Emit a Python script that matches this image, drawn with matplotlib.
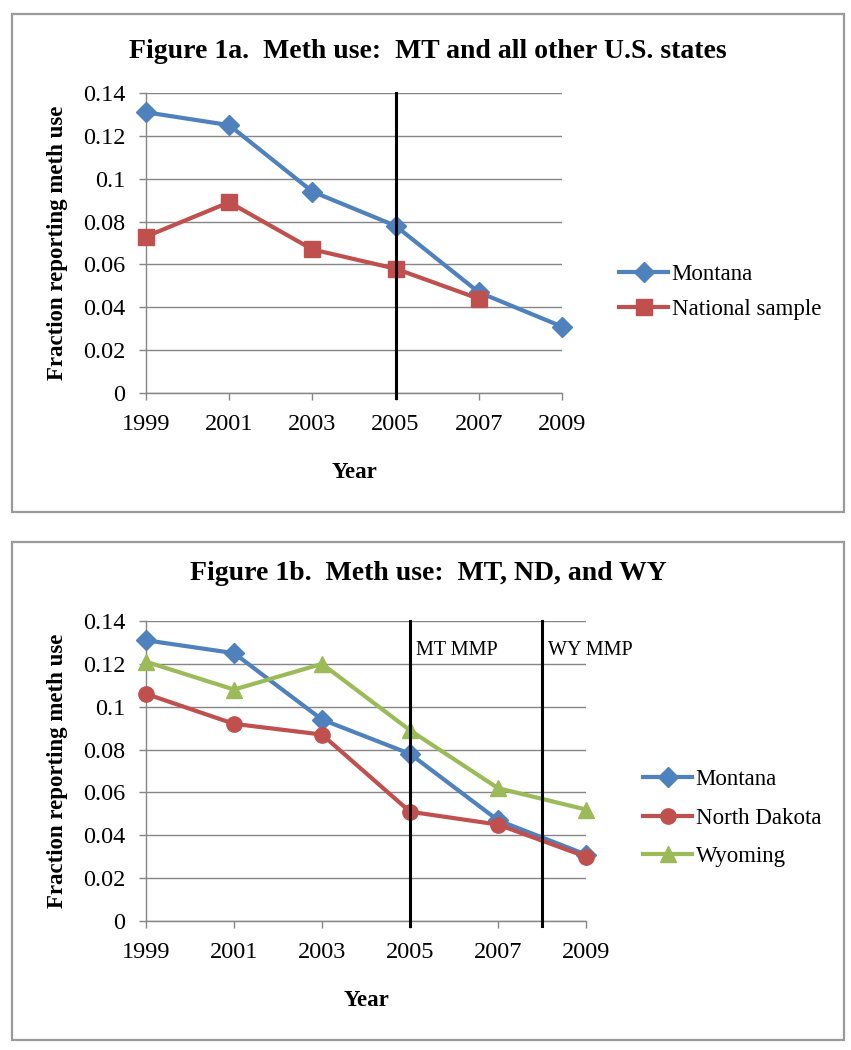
#!/usr/bin/env python3

import matplotlib
matplotlib.use("Agg")
import matplotlib.pyplot as plt
from matplotlib.patches import Rectangle


YEARS = [1999, 2001, 2003, 2005, 2007, 2009]
MONTANA = [0.131, 0.125, 0.094, 0.078, 0.047, 0.031]
NATIONAL = [0.073, 0.089, 0.067, 0.058, 0.044, None]
NORTH_DAKOTA = [0.106, 0.092, 0.087, 0.051, 0.045, 0.030]
WYOMING = [0.121, 0.108, 0.120, 0.089, 0.062, 0.052]
Y_TICKS = [0, 0.02, 0.04, 0.06, 0.08, 0.1, 0.12, 0.14]
Y_TICK_LABELS = ["0", "0.02", "0.04", "0.06", "0.08", "0.1", "0.12", "0.14"]
MMP_LINES_1A = [2005]
MMP_LINES_1B = [2005, 2008]
MMP_LABELS_1B = ["MT MMP", "WY MMP"]

BLUE = "#4F81BD"
RED = "#C0504D"
GREEN = "#9BBB59"
GRID = "#868686"

W, H = 851, 1050
plt.rcParams["font.family"] = ["Liberation Serif", "DejaVu Serif"]


def fx(px):
    return px / W


def fy(py):
    return 1 - py / H


def panel(fig, top, bottom):
    fig.patches.append(Rectangle((fx(12), fy(bottom)), fx(844) - fx(12), fy(top) - fy(bottom),
                                 transform=fig.transFigure, fill=False,
                                 edgecolor="#9a9a9a", linewidth=1.6))


def setup_axes(fig, left, right, top, bottom):
    ax = fig.add_axes([fx(left), fy(bottom), fx(right) - fx(left), fy(top) - fy(bottom)])
    ax.set_xlim(YEARS[0], YEARS[-1])
    ax.set_ylim(0, 0.14)
    ax.set_xticks(YEARS)
    ax.set_xticklabels([str(y) for y in YEARS])
    ax.set_yticks(Y_TICKS)
    ax.set_yticklabels(Y_TICK_LABELS)
    ax.grid(True, axis="y", color=GRID, linewidth=1.0)
    ax.set_axisbelow(True)
    for side in ["top", "right"]:
        ax.spines[side].set_visible(False)
    for side in ["left", "bottom"]:
        ax.spines[side].set_color(GRID)
        ax.spines[side].set_linewidth(1.0)
    ax.tick_params(axis="both", colors=GRID, length=5, width=1.0, labelsize=17.5,
                   labelcolor="black")
    ax.tick_params(axis="y", pad=10)
    ax.tick_params(axis="x", pad=10)
    return ax


def main():
    fig = plt.figure(figsize=(W / 100, H / 100), dpi=100)

    # Figure 1a
    panel(fig, 14, 512)
    ax1 = setup_axes(fig, 146, 562, 93, 393)
    ax1.plot(YEARS, MONTANA, color=BLUE, linewidth=3, marker="D", markersize=10,
             label="Montana", clip_on=False, zorder=3)
    ax1.plot(YEARS, NATIONAL, color=RED, linewidth=3, marker="s", markersize=11,
             label="National sample", clip_on=False, zorder=3)
    for x in MMP_LINES_1A:
        ax1.axvline(x, ymin=-0.017, ymax=1, color="black", linewidth=2.2,
                    clip_on=False, zorder=4)
    fig.text(fx(428), fy(52), "Figure 1a.  Meth use:  MT and all other U.S. states",
             ha="center", va="center", fontsize=20, fontweight="bold")
    fig.text(fx(58), fy(243), "Fraction reporting meth use", rotation=90,
             ha="center", va="center", fontsize=16.5, fontweight="bold")
    fig.text(fx(354), fy(472), "Year", ha="center", va="center",
             fontsize=16.5, fontweight="bold")
    ax1.legend(loc="center left", bbox_to_anchor=(fx(619), fy(292)),
               bbox_transform=fig.transFigure, frameon=False, fontsize=16.5,
               handlelength=2.15, handletextpad=0.15, labelspacing=0.62,
               borderpad=0, borderaxespad=0)

    # Figure 1b
    panel(fig, 542, 1040)
    ax2 = setup_axes(fig, 146, 586, 621, 921)
    ax2.plot(YEARS, MONTANA, color=BLUE, linewidth=3, marker="D", markersize=10,
             label="Montana", clip_on=False, zorder=3)
    ax2.plot(YEARS, NORTH_DAKOTA, color=RED, linewidth=3, marker="o", markersize=11,
             label="North Dakota", clip_on=False, zorder=3)
    ax2.plot(YEARS, WYOMING, color=GREEN, linewidth=3, marker="^", markersize=12,
             label="Wyoming", clip_on=False, zorder=3)
    for x, lab in zip(MMP_LINES_1B, MMP_LABELS_1B):
        ax2.axvline(x, ymin=-0.017, ymax=1, color="black", linewidth=2.2,
                    clip_on=False, zorder=4)
        ax2.annotate(lab, xy=(x, 0.14), xycoords="data", xytext=(4, -21),
                     textcoords="offset points", ha="left", va="center",
                     fontsize=14.5, annotation_clip=False)
    fig.text(fx(428), fy(573), "Figure 1b.  Meth use:  MT, ND, and WY",
             ha="center", va="center", fontsize=20, fontweight="bold")
    fig.text(fx(58), fy(771), "Fraction reporting meth use", rotation=90,
             ha="center", va="center", fontsize=16.5, fontweight="bold")
    fig.text(fx(366), fy(1000), "Year", ha="center", va="center",
             fontsize=16.5, fontweight="bold")
    ax2.legend(loc="center left", bbox_to_anchor=(fx(643), fy(818)),
               bbox_transform=fig.transFigure, frameon=False, fontsize=16.5,
               handlelength=2.15, handletextpad=0.15, labelspacing=0.75,
               borderpad=0, borderaxespad=0)

    fig.savefig("out.png", dpi=100)
    plt.close(fig)


if __name__ == "__main__":
    main()
